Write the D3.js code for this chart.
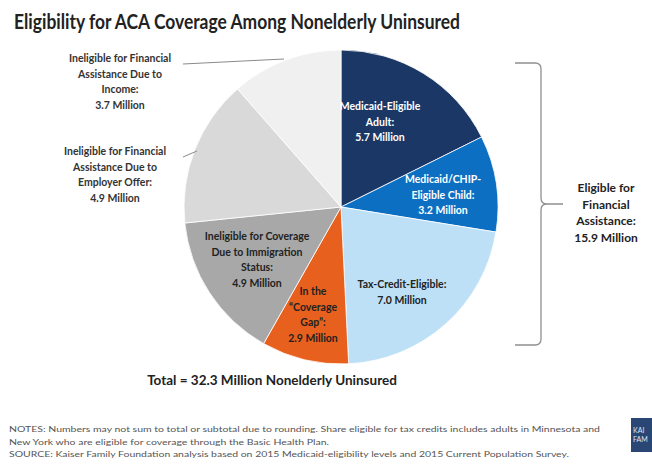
<!DOCTYPE html>
<html>
<head>
<meta charset="utf-8">
<script src="https://cdn.jsdelivr.net/npm/d3@7"></script>
<style>
  body { margin: 0; background: #fff; }
  svg text { font-family: Lato, "Open Sans", sans-serif; }
</style>
</head>
<body>
<div id="chart"></div>
<script>
// data, clockwise from 12 o'clock
const categories = ['adult', 'child', 'taxCredit', 'gap', 'immigration', 'employer', 'income'];
const values = [5.7, 3.2, 7.0, 2.9, 4.9, 4.9, 3.7];
const sliceLabels = [
  ['Medicaid-Eligible', 'Adult:', '5.7 Million'],
  ['Medicaid/CHIP-', 'Eligible Child:', '3.2 Million'],
  ['Tax-Credit-Eligible:', '7.0 Million'],
  ['In the', '\u201CCoverage', 'Gap\u201D:', '2.9 Million'],
  ['Ineligible for Coverage', 'Due to Immigration', 'Status:', '4.9 Million'],
  ['Ineligible for Financial', 'Assistance Due to', 'Employer Offer:', '4.9 Million'],
  ['Ineligible for Financial', 'Assistance Due to', 'Income:', '3.7 Million']
];
const eligibleLabel = ['Eligible for', 'Financial', 'Assistance:', '15.9 Million'];
const totalLabel = 'Total = 32.3 Million Nonelderly Uninsured';
const notes = [
  'NOTES: Numbers may not sum to total or subtotal due to rounding. Share eligible for tax credits includes adults in Minnesota and',
  'New York who are eligible for coverage through the Basic Health Plan.',
  'SOURCE: Kaiser Family Foundation analysis based on 2015 Medicaid-eligibility levels and 2015 Current Population Survey.'
];

// styling / layout
const colors = ['#1b3766', '#0c6fc2', '#bde0f7', '#e8601e', '#a8a8a8', '#d9d9d9', '#f0f0f0'];
const textColors = ['#fff', '#fff', '#222', '#222', '#222', '#333', '#333'];
// label block centre relative to pie centre (x) and first baseline (y)
const labelPos = [[39, -97], [102, -24], [61, 81], [-28, 88], [-84, 33], [-226, -52], [-221, -145]];
const noteWidths = [591, 320, 560];

const W = 652, H = 465;
const cx = 341, cy = 207, R = 157;
const lineH = 15.5;

const svg = d3.select('#chart').append('svg')
    .attr('width', W)
    .attr('height', H);

svg.append('text')
    .attr('x', 14)
    .attr('y', 29)
    .attr('font-size', 21)
    .attr('font-weight', 'bold')
    .attr('fill', '#222')
    .attr('textLength', 446)
    .attr('lengthAdjust', 'spacingAndGlyphs')
    .text('Eligibility for ACA Coverage Among Nonelderly Uninsured');

const pie = d3.pie().sort(null).value(d => d)(values);
const arc = d3.arc().innerRadius(0).outerRadius(R);

const g = svg.append('g').attr('transform', `translate(${cx},${cy})`);

g.selectAll('path.slice')
  .data(pie)
  .enter().append('path')
    .attr('class', 'slice')
    .attr('d', arc)
    .attr('fill', (d, i) => colors[i])
    .attr('stroke', '#fff')
    .attr('stroke-width', 0.8);

// leader lines for the two outside labels
const leaders = [
  {from: [-158, -50], to: [-144, -56]},
  {from: [-158, -143], to: [-57, -148]}
];
g.selectAll('line.leader')
  .data(leaders)
  .enter().append('line')
    .attr('class', 'leader')
    .attr('x1', d => d.from[0]).attr('y1', d => d.from[1])
    .attr('x2', d => d.to[0]).attr('y2', d => d.to[1])
    .attr('stroke', '#8a8a8a')
    .attr('stroke-width', 1);

const labels = g.selectAll('text.lbl')
  .data(sliceLabels)
  .enter().append('text')
    .attr('class', 'lbl')
    .attr('text-anchor', 'middle')
    .attr('font-size', 10.5)
    .attr('font-weight', 'bold')
    .attr('fill', (d, i) => textColors[i]);

labels.each(function(lines, i) {
  const t = d3.select(this);
  lines.forEach((s, j) => {
    t.append('tspan')
      .attr('x', labelPos[i][0])
      .attr('y', labelPos[i][1] + j * lineH)
      .text(s);
  });
});

// brace on the right
const bx = 541, bTop = 63, bBot = 345, bMid = 204, bLeft = 515, bTip = 563, rr = 6;
svg.append('path')
    .attr('d', `M${bLeft},${bTop} L${bx - rr},${bTop} Q${bx},${bTop} ${bx},${bTop + rr}
      L${bx},${bMid - rr} Q${bx},${bMid} ${bx + rr},${bMid} L${bTip},${bMid}
      M${bx + rr},${bMid} Q${bx},${bMid} ${bx},${bMid + rr}
      L${bx},${bBot - rr} Q${bx},${bBot} ${bx - rr},${bBot} L${bLeft},${bBot}`)
    .attr('fill', 'none')
    .attr('stroke', '#8f8f8f')
    .attr('stroke-width', 1.3);

const el = svg.append('text')
    .attr('text-anchor', 'middle')
    .attr('font-size', 12)
    .attr('font-weight', 'bold')
    .attr('fill', '#222');
eligibleLabel.forEach((s, j) => {
  el.append('tspan').attr('x', 606).attr('y', 192 + j * 16.5).text(s);
});

svg.append('text')
    .attr('x', 272)
    .attr('y', 385)
    .attr('text-anchor', 'middle')
    .attr('font-size', 13.5)
    .attr('font-weight', 'bold')
    .attr('fill', '#222')
    .text(totalLabel);

svg.selectAll('text.note')
  .data(notes)
  .enter().append('text')
    .attr('class', 'note')
    .attr('x', 9)
    .attr('y', (d, i) => 432 + i * 12.5)
    .attr('font-size', 8)
    .attr('fill', '#555')
    .attr('textLength', (d, i) => noteWidths[i])
    .attr('lengthAdjust', 'spacingAndGlyphs')
    .text(d => d);

// logo stub at bottom right
svg.append('rect')
    .attr('x', 631).attr('y', 418)
    .attr('width', 26).attr('height', 34)
    .attr('fill', '#2a4675');
svg.selectAll('text.logo')
  .data(['KAI', 'FAM'])
  .enter().append('text')
    .attr('class', 'logo')
    .attr('x', 633)
    .attr('y', (d, i) => 433 + i * 9)
    .attr('font-size', 7)
    .attr('font-family', 'serif')
    .attr('fill', '#dfe6f0')
    .text(d => d);
</script>
</body>
</html>
